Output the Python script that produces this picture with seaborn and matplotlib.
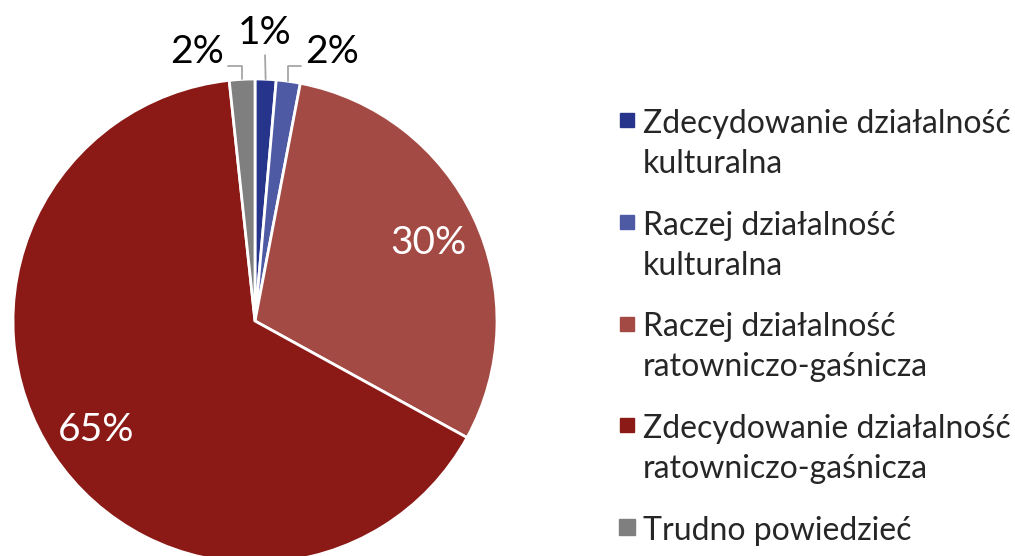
import numpy as np
import seaborn as sns
import matplotlib.pyplot as plt
from matplotlib.lines import Line2D

categories = ['Zdecydowanie działalność\nkulturalna',
              'Raczej działalność\nkulturalna',
              'Raczej działalność\nratowniczo-gaśnicza',
              'Zdecydowanie działalność\nratowniczo-gaśnicza',
              'Trudno powiedzieć']
values = [1.4, 1.6, 30.0, 65.3, 1.7]
colors = sns.color_palette(['#27348B', '#4F5AA4', '#A44A45', '#8B1A16', '#7F7F7F'])

sns.set_style('white')
plt.rcParams['font.family'] = ['Lato', 'DejaVu Sans']

fig = plt.figure(figsize=(10.15, 5.56), dpi=100)
ax = fig.add_axes([13 / 1015, -7 / 556, 484 / 1015, 484 / 556])

wedges, texts, autotexts = ax.pie(
    values, colors=colors, startangle=90, counterclock=False,
    wedgeprops=dict(edgecolor='white', linewidth=2),
    autopct=lambda p: f'{p:.0f}%' if p > 5 else '',
    pctdistance=0.79,
    textprops=dict(color='white', fontsize=28))
for t in autotexts:
    t.set_va('center_baseline')
ax.set_xlim(-1, 1)
ax.set_ylim(-1, 1)
ax.set_aspect('equal')
ax.axis('off')

# outside labels with leader lines for the thin slices
outside = {0: ((0.041, 1.19), (0.5, 0.0), 'arc3'),
           1: ((0.32, 1.11), (0.0, 0.12), 'angle,angleA=0,angleB=90,rad=0'),
           4: ((-0.24, 1.11), (1.0, 0.12), 'angle,angleA=0,angleB=90,rad=0')}
for i, (pos, rel, conn) in outside.items():
    w = wedges[i]
    mid = np.deg2rad((w.theta1 + w.theta2) / 2)
    edge = (np.cos(mid) * 1.0, np.sin(mid) * 1.0)
    ax.annotate(f'{values[i]:.0f}%', xy=edge, xytext=pos,
                ha='center', va='center', fontsize=28, color='black',
                annotation_clip=False,
                arrowprops=dict(arrowstyle='-', color='#A6A6A6', lw=1.3,
                                connectionstyle=conn, relpos=rel,
                                patchA=None, shrinkA=3, shrinkB=0))

handles = [Line2D([], [], marker='s', linestyle='', color=c,
                  markersize=12 if i == 4 else 9.5)
           for i, c in enumerate(colors)]
leg = fig.legend(handles, categories, loc='upper left',
                 bbox_to_anchor=(617 / 1015, 1 - 109 / 556),
                 frameon=False, fontsize=23, handlelength=0.6,
                 handletextpad=0.2, labelspacing=0.99, borderpad=0,
                 borderaxespad=0)
for t in leg.get_texts():
    t.set_linespacing(1.42)
for col in leg._legend_handle_box.get_children():
    for row in col.get_children():
        row.align = 'top'

fig.savefig('out.png', dpi=100)
